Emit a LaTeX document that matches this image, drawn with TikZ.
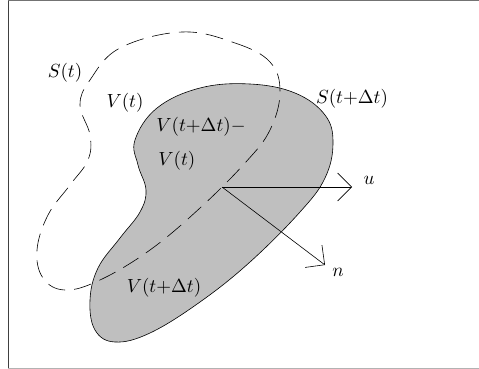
\documentclass[tikz,border=0pt]{standalone}
\usetikzlibrary{arrows.meta}
\begin{document}
\begin{tikzpicture}[x=1pt,y=-1pt,
  lbl/.style={inner sep=0pt,scale=1.9},
  vec/.style={line width=0.6pt,-{Straight Barb[length=14pt,width=28pt,line width=0.6pt]}},
  bound/.style={line width=0.6pt}]
\useasboundingbox (0,0) rectangle (479,369);
% frame
\draw[line width=0.8pt,black!75] (8,369) -- (8,0.5);
\draw[line width=0.8pt,black!55] (8,0.5) -- (479,0.5);
\draw[line width=0.8pt,black!30] (8,368) -- (479,368);
% V(t+dt) region
\draw[bound,fill=black!25] plot[smooth cycle,tension=0.65] coordinates {
 (157,108) (200,88) (250,84) (295,93) (325,115) (333,143) (325,178) (300,212)
 (250,262) (200,302) (150,333) (115,342) (95,330) (90,300) (98,268) (120,238)
 (140,212) (146,190) (138,165) (135,140)};
% S(t) dashed
\draw[bound,dash pattern=on 18pt off 9pt] plot[smooth cycle,tension=0.65] coordinates {
 (182,32) (235,43) (270,62) (280,92) (270,130) (245,163) (200,208) (150,250)
 (100,280) (65,290) (43,278) (37,250) (48,215) (70,185) (88,160) (90,135)
 (80,105) (90,80) (120,48)};
% vectors
\coordinate (o) at (222,187);
\coordinate (ue) at (352,187);
\coordinate (ne) at (325,265);
\draw[vec] (o) -- (ue);
\draw[vec] (o) -- (ne);
% labels
\node[lbl] (st) at (65,73) {$S(t)$};
\node[lbl] (vt) at (125,103) {$V(t)$};
\node[lbl] (vd) at (201,127) {$V(t{+}\Delta t){-}$};
\node[lbl,anchor=west] (vt2) at (158,161) {$V(t)$};
\node[lbl] (sd) at (352,99) {$S(t{+}\Delta t)$};
\node[lbl] (u) at (369,180) {$u$};
\node[lbl] (n) at (338,272) {$n$};
\node[lbl] (vdd) at (164,288) {$V(t{+}\Delta t)$};
\end{tikzpicture}
\end{document}
